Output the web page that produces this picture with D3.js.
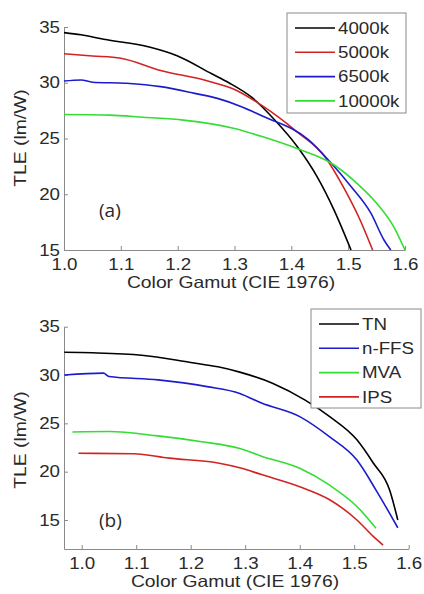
<!DOCTYPE html>
<meta charset="utf-8">
<head>
<script src="https://cdnjs.cloudflare.com/ajax/libs/d3/7.8.5/d3.min.js"></script>
<style>
	body { margin: 0; background: #fff; }
	text { font-family: Arial, "Liberation Sans", sans-serif; }
</style>
</head>
<body>
<div id="svg-container"></div>
<script>

////////////////////////////////////
// DATA
////////////////////////////////////

// panel (a): color temperature
const namesA = ['4000k', '5000k', '6500k', '10000k']
const k4000 = [[1.00, 34.5], [1.03, 34.3], [1.07, 33.9], [1.15, 33.2], [1.20, 32.4], [1.26, 30.8], [1.29, 30.0], [1.33, 28.7], [1.37, 26.7], [1.41, 24.3], [1.445, 21.6], [1.475, 18.6], [1.505, 15.0]]
const k5000 = [[1.00, 32.6], [1.05, 32.4], [1.10, 32.2], [1.17, 31.1], [1.25, 30.2], [1.30, 29.4], [1.35, 27.9], [1.41, 25.6], [1.46, 23.3], [1.49, 20.8], [1.52, 17.8], [1.543, 15.0]]
const k6500 = [[1.00, 30.15], [1.03, 30.25], [1.05, 30.05], [1.11, 29.95], [1.17, 29.65], [1.23, 29.05], [1.27, 28.6], [1.31, 27.9], [1.35, 27.0], [1.43, 24.9], [1.47, 22.8], [1.505, 20.7], [1.54, 18.3], [1.563, 15.9], [1.575, 15.0]]
const k10000 = [[1.00, 27.15], [1.08, 27.1], [1.14, 26.9], [1.21, 26.65], [1.30, 25.9], [1.35, 25.15], [1.41, 24.1], [1.47, 22.8], [1.515, 21.0], [1.55, 19.2], [1.58, 17.1], [1.60, 15.0]]

// panel (b): LC mode
const namesB = ['TN', 'n-FFS', 'MVA', 'IPS']
const tn = [[0.968, 32.35], [1.02, 32.3], [1.11, 32.05], [1.20, 31.3], [1.25, 30.85], [1.29, 30.3], [1.35, 29.15], [1.41, 27.4], [1.455, 25.7], [1.505, 23.3], [1.535, 20.9], [1.565, 18.1], [1.58, 15.0]]
const nffs = [[0.968, 30.0], [1.04, 30.2], [1.05, 29.85], [1.14, 29.5], [1.23, 28.8], [1.29, 28.1], [1.33, 27.1], [1.40, 25.7], [1.455, 23.6], [1.505, 21.2], [1.54, 18.1], [1.58, 14.2]]
const mva = [[0.983, 24.1], [1.05, 24.15], [1.14, 23.7], [1.22, 23.1], [1.29, 22.4], [1.33, 21.6], [1.40, 20.35], [1.455, 18.6], [1.505, 16.4], [1.54, 14.15]]
const ips = [[0.994, 21.9], [1.095, 21.85], [1.16, 21.4], [1.25, 20.9], [1.29, 20.4], [1.33, 19.7], [1.40, 18.45], [1.455, 17.1], [1.505, 15.0], [1.535, 13.3], [1.553, 12.4]]

const xTicks = [1.0, 1.1, 1.2, 1.3, 1.4, 1.5, 1.6]
const yTicks = [15, 20, 25, 30, 35]

const black = '#000000', red = '#d22323', blue = '#1c1ccc', green = '#33dd33'

////////////////////////////////////
// SVG
////////////////////////////////////

const svg = d3.select('#svg-container').append('svg')
	.attr('width', 424)
	.attr('height', 594)

function drawPanel(p) {
	const x = d3.scaleLinear().domain(p.xDomain).range([p.left, p.right])
	const y = d3.scaleLinear().domain(p.yDomain).range([p.bottom, p.top])

	const g = svg.append('g')

	const xAxis = g.append('g')
		.attr('transform', `translate(0,${p.bottom})`)
		.call(d3.axisBottom(x).tickValues(xTicks).tickFormat(d3.format('.1f')).tickSizeInner(-4).tickSizeOuter(0).tickPadding(9))
	const yAxis = g.append('g')
		.attr('transform', `translate(${p.left},0)`)
		.call(d3.axisLeft(y).tickValues(yTicks).tickSizeInner(-4).tickSizeOuter(0).tickPadding(4))

	;[xAxis, yAxis].forEach(a => {
		a.selectAll('.domain, line').attr('stroke', '#8a8a8a')
		a.selectAll('text').attr('fill', '#2a2a2a').style('font-size', '16px')
	})

	const line = d3.line()
		.x(d => x(d[0]))
		.y(d => y(d[1]))
		.curve(d3.curveMonotoneX)

	p.series.forEach(s => {
		g.append('path')
			.datum(s.values)
			.attr('fill', 'none')
			.attr('stroke', s.color)
			.attr('stroke-width', 1.6)
			.attr('d', line)
	})

	// axis titles
	g.append('text')
		.attr('x', p.xTitleX)
		.attr('y', p.xTitleY)
		.attr('text-anchor', 'middle')
		.style('font-size', '16.5px')
		.attr('fill', '#2a2a2a')
		.text('Color Gamut (CIE 1976)')

	g.append('text')
		.attr('transform', `translate(${p.yTitleX},${p.yTitleY}) rotate(-90)`)
		.attr('text-anchor', 'middle')
		.style('font-size', '16.5px')
		.attr('fill', '#2a2a2a')
		.text('TLE (lm/W)')

	g.append('text')
		.attr('class', 'tag')
		.attr('x', 99)
		.attr('y', p.tagY)
		.style('font-size', '19px')
		.style('font-family', '"Open Sans", sans-serif')
		.attr('fill', '#2a2a2a')
		.text(p.tag)

	// legend
	const lg = g.append('g').attr('transform', `translate(${p.legend.x},${p.legend.y})`)
	lg.append('rect')
		.attr('width', p.legend.w)
		.attr('height', p.legend.h)
		.attr('fill', '#fff')
		.attr('stroke', '#8a8a8a')
	p.series.forEach((s, i) => {
		const ly = 15 + i * 24.3
		lg.append('line')
			.attr('x1', p.legend.lineX)
			.attr('x2', p.legend.lineX + 40)
			.attr('y1', ly)
			.attr('y2', ly)
			.attr('stroke', s.color)
			.attr('stroke-width', 1.6)
		lg.append('text')
			.attr('x', p.legend.lineX + 43)
			.attr('y', ly)
			.attr('dy', '0.36em')
			.style('font-size', '16px')
			.attr('fill', '#2a2a2a')
			.text(s.name)
	})
}

drawPanel({
	xDomain: [1.0, 1.6], yDomain: [15, 35],
	left: 64, right: 405, top: 27, bottom: 250,
	xTitleX: 231, xTitleY: 288, yTitleX: 26, yTitleY: 138,
	tag: '(a)', tagY: 217,
	legend: {x: 287, y: 13, w: 119, h: 100, lineX: 8},
	series: [
		{name: namesA[0], values: k4000, color: black},
		{name: namesA[1], values: k5000, color: red},
		{name: namesA[2], values: k6500, color: blue},
		{name: namesA[3], values: k10000, color: green}
	]
})

drawPanel({
	xDomain: [0.9675, 1.6], yDomain: [12, 35],
	left: 64, right: 408.7, top: 326.7, bottom: 549,
	xTitleX: 235, xTitleY: 587, yTitleX: 26, yTitleY: 440,
	tag: '(b)', tagY: 527,
	legend: {x: 311, y: 309, w: 110, h: 99, lineX: 8},
	series: [
		{name: namesB[0], values: tn, color: black},
		{name: namesB[1], values: nffs, color: blue},
		{name: namesB[2], values: mva, color: green},
		{name: namesB[3], values: ips, color: red}
	]
})

// the source figure's lettering is horizontally stretched
svg.selectAll('text:not(.tag)').each(function() {
	const w = this.getComputedTextLength()
	d3.select(this)
		.attr('textLength', w * 1.17)
		.attr('lengthAdjust', 'spacingAndGlyphs')
})

</script>
</body>
